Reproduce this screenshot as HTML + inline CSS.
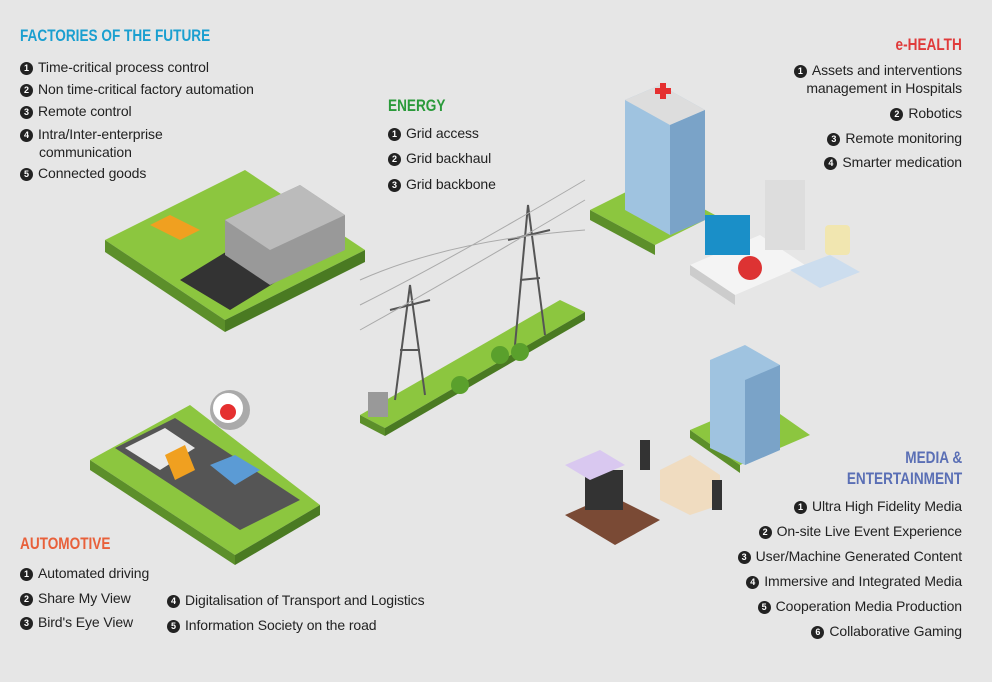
<!DOCTYPE html>
<html><head><meta charset="utf-8"><style>
body{margin:0;width:992px;height:682px;background:#e6e6e6;position:relative;overflow:hidden;font-family:"Liberation Sans",sans-serif;color:#222}
.t{position:absolute;font-weight:bold;font-size:17px;transform:scaleX(0.8);transform-origin:left top;white-space:nowrap}
.tr{transform-origin:right top;text-align:right}
.l{position:absolute;font-size:14px;white-space:nowrap;line-height:18px;letter-spacing:-0.1px}
.n{display:inline-block;width:13px;height:13px;border-radius:50%;background:#222;color:#fff;font-size:9px;line-height:13px;text-align:center;font-weight:bold;margin-right:5px;vertical-align:1px;letter-spacing:0}
.r{text-align:right}
svg{position:absolute;left:0;top:0}
</style></head><body>
<svg width="992" height="682">
<polygon points="105,240 245,170 365,250 225,320" fill="#8cc63f"/>
<polygon points="105,240 225,320 225,332 105,252" fill="#5c8f2a"/>
<polygon points="225,320 365,250 365,262 225,332" fill="#4a7a22"/>
<polygon points="180,280 270,225 320,255 230,310" fill="#333"/>
<polygon points="225,220 300,185 345,215 345,250 270,285 225,255" fill="#999"/>
<polygon points="225,220 300,185 345,215 270,250" fill="#bbb"/>
<polygon points="150,225 170,215 200,230 180,240" fill="#f0a020"/>
<polygon points="360,415 560,300 585,312 385,428" fill="#8cc63f"/>
<polygon points="360,415 385,428 385,436 360,423" fill="#5c8f2a"/>
<polygon points="385,428 585,312 585,320 385,436" fill="#4a7a22"/>
<g stroke="#555" stroke-width="2" fill="none">
<path d="M395,400 L410,285 L425,395 M400,350 L420,350 M390,310 L430,300"/>
<path d="M515,345 L528,205 L545,335 M520,280 L540,278 M508,240 L550,230"/>
</g>
<g stroke="#aaa" stroke-width="1" fill="none">
<path d="M360,330 Q450,280 585,200 M360,305 Q450,260 585,180 M360,280 Q450,240 585,230"/>
</g>
<circle cx="460" cy="385" r="9" fill="#5aa02c"/><circle cx="500" cy="355" r="9" fill="#5aa02c"/><circle cx="520" cy="352" r="9" fill="#5aa02c"/>
<rect x="368" y="392" width="20" height="25" fill="#999"/>
<polygon points="590,210 650,180 715,215 655,245" fill="#8cc63f"/>
<polygon points="590,210 655,245 655,255 590,220" fill="#5c8f2a"/>
<polygon points="625,100 660,85 705,110 705,220 670,235 625,210" fill="#9fc3e0"/>
<polygon points="625,100 660,85 705,110 670,125" fill="#ddd"/>
<polygon points="670,125 705,110 705,220 670,235" fill="#7aa3c8"/>
<rect x="655" y="88" width="16" height="6" fill="#e53030"/><rect x="660" y="83" width="6" height="16" fill="#e53030"/>
<polygon points="690,265 760,235 805,265 735,295" fill="#f4f4f4"/>
<polygon points="690,265 735,295 735,305 690,275" fill="#ccc"/>
<rect x="705" y="215" width="45" height="40" fill="#1a8fc8"/>
<circle cx="750" cy="268" r="12" fill="#d33"/>
<rect x="765" y="180" width="40" height="70" fill="#ddd"/>
<rect x="825" y="225" width="25" height="30" rx="4" fill="#f1e6b0"/>
<polygon points="790,270 830,255 860,272 820,288" fill="#cde"/>
<polygon points="690,430 760,400 810,435 740,465" fill="#8cc63f"/>
<polygon points="690,430 740,465 740,473 690,438" fill="#5c8f2a"/>
<polygon points="710,360 745,345 780,365 780,450 745,465 710,448" fill="#9fc3e0"/>
<polygon points="745,380 780,365 780,450 745,465" fill="#7aa3c8"/>
<polygon points="565,515 610,495 660,520 615,545" fill="#7a4a35"/>
<rect x="585" y="470" width="38" height="40" fill="#333"/>
<polygon points="565,465 600,450 625,465 590,480" fill="#d9c8f0"/>
<polygon points="660,470 690,455 720,475 720,505 690,515 660,500" fill="#f0dcc0"/>
<rect x="640" y="440" width="10" height="30" fill="#333"/><rect x="712" y="480" width="10" height="30" fill="#333"/>
<polygon points="90,460 190,405 320,505 235,555" fill="#8cc63f"/>
<polygon points="90,460 235,555 235,565 90,470" fill="#5c8f2a"/>
<polygon points="235,555 320,505 320,515 235,565" fill="#4a7a22"/>
<polygon points="115,448 175,418 300,500 240,530" fill="#555"/>
<polygon points="125,448 165,428 195,448 160,470" fill="#e8e8e8"/>
<polygon points="165,455 185,445 195,470 175,480" fill="#f0a020"/>
<polygon points="210,465 235,455 260,470 235,485" fill="#5b9bd5"/>
<circle cx="230" cy="410" r="20" fill="#aaa"/><circle cx="228" cy="408" r="15" fill="#fff"/><circle cx="228" cy="412" r="8" fill="#e53030"/>
</svg>

<div class="t" style="left:20px;top:26px;color:#1a9fd0">FACTORIES OF THE FUTURE</div>
<div class="l" style="left:20px;top:58px"><span class="n">1</span>Time-critical process control</div>
<div class="l" style="left:20px;top:80px"><span class="n">2</span>Non time-critical factory automation</div>
<div class="l" style="left:20px;top:102px"><span class="n">3</span>Remote control</div>
<div class="l" style="left:20px;top:125px"><span class="n">4</span>Intra/Inter-enterprise<br>&nbsp;&nbsp;&nbsp;&nbsp;&nbsp;communication</div>
<div class="l" style="left:20px;top:164px"><span class="n">5</span>Connected goods</div>

<div class="t" style="left:388px;top:96px;color:#2a9a3a">ENERGY</div>
<div class="l" style="left:388px;top:124px"><span class="n">1</span>Grid access</div>
<div class="l" style="left:388px;top:149px"><span class="n">2</span>Grid backhaul</div>
<div class="l" style="left:388px;top:175px"><span class="n">3</span>Grid backbone</div>

<div class="t tr" style="right:30px;top:35px;color:#e03a3a">e-HEALTH</div>
<div class="l r" style="right:30px;top:61px"><span class="n">1</span>Assets and interventions<br>management in Hospitals</div>
<div class="l r" style="right:30px;top:104px"><span class="n">2</span>Robotics</div>
<div class="l r" style="right:30px;top:129px"><span class="n">3</span>Remote monitoring</div>
<div class="l r" style="right:30px;top:153px"><span class="n">4</span>Smarter medication</div>

<div class="t tr" style="right:30px;top:447px;color:#5a6fb5;line-height:21px">MEDIA &amp;<br>ENTERTAINMENT</div>
<div class="l r" style="right:30px;top:497px"><span class="n">1</span>Ultra High Fidelity Media</div>
<div class="l r" style="right:30px;top:522px"><span class="n">2</span>On-site Live Event Experience</div>
<div class="l r" style="right:30px;top:547px"><span class="n">3</span>User/Machine Generated Content</div>
<div class="l r" style="right:30px;top:572px"><span class="n">4</span>Immersive and Integrated Media</div>
<div class="l r" style="right:30px;top:597px"><span class="n">5</span>Cooperation Media Production</div>
<div class="l r" style="right:30px;top:622px"><span class="n">6</span>Collaborative Gaming</div>

<div class="t" style="left:20px;top:534px;color:#e8603a">AUTOMOTIVE</div>
<div class="l" style="left:20px;top:564px"><span class="n">1</span>Automated driving</div>
<div class="l" style="left:20px;top:589px"><span class="n">2</span>Share My View</div>
<div class="l" style="left:20px;top:613px"><span class="n">3</span>Bird's Eye View</div>
<div class="l" style="left:167px;top:591px"><span class="n">4</span>Digitalisation of Transport and Logistics</div>
<div class="l" style="left:167px;top:616px"><span class="n">5</span>Information Society on the road</div>
</body></html>
